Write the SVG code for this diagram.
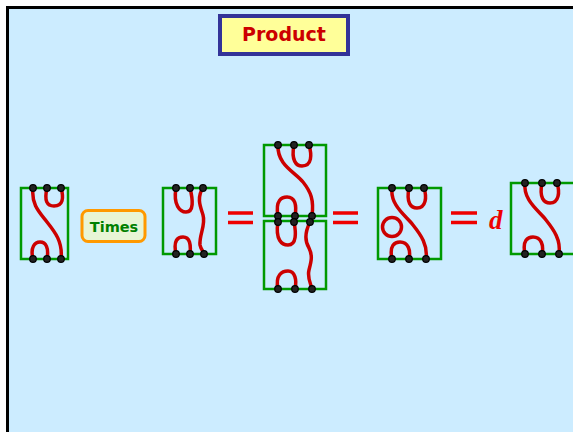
<svg xmlns="http://www.w3.org/2000/svg" width="573" height="432" viewBox="0 0 573 432">
<defs>
<style>
.box{fill:none;stroke:#009900;stroke-width:2.5}
.str{fill:none;stroke:#CC0000;stroke-width:3.5;stroke-linecap:round}
.dot{fill:#222;stroke:#000;stroke-width:1.2}
.eq{stroke:#EE0000;stroke-width:3.5}
</style>
</defs>
<rect x="0" y="0" width="573" height="432" fill="#ffffff"/>
<rect x="7.5" y="7.5" width="570" height="430" fill="#CCECFF" stroke="#000" stroke-width="3"/>
<g id="title">
<rect x="220" y="16" width="128" height="38" fill="#FFFF99" stroke="#333399" stroke-width="4"/>
<text x="284" y="41" font-family="'Comic Sans MS','DejaVu Sans',sans-serif" font-weight="bold" font-size="19" fill="#CC0000" text-anchor="middle">Product</text>
</g>
<g id="d1">
<rect class="box" x="21" y="188" width="47" height="71"/>
<path class="str" d="M33,188 C31,205 40,213 47,222 C55,232 63,242 61,259"/>
<path class="str" d="M47,188 C44,201 47,206 54,206 C63,206 64,198 61,188"/>
<path class="str" d="M33,259 C30,247 35,242 40,242 C46,242 49,248 47,259"/>
<circle class="dot" cx="33" cy="188" r="3.3"/><circle class="dot" cx="47" cy="188" r="3.3"/><circle class="dot" cx="61" cy="188" r="3.3"/>
<circle class="dot" cx="33" cy="259" r="3.3"/><circle class="dot" cx="47" cy="259" r="3.3"/><circle class="dot" cx="61" cy="259" r="3.3"/>
</g>
<g id="times">
<rect x="82" y="210.5" width="63" height="31" rx="6" fill="#E8F5D5" stroke="#FF9900" stroke-width="3"/>
<text x="114" y="232" font-family="'Comic Sans MS','DejaVu Sans',sans-serif" font-weight="bold" font-size="14.5" fill="#008000" text-anchor="middle">Times</text>
</g>
<g id="d2">
<rect class="box" x="163" y="188" width="53" height="66"/>
<path class="str" d="M176,188 C173,205 180,212 186,212 C194,212 193,200 190,188"/>
<path class="str" d="M203,188 C196,198 201,208 203,215 C206,225 199,235 200,245 C201,250 204,252 204,254"/>
<path class="str" d="M176,254 C173,240 178,237 183,237 C190,237 191,245 190,254"/>
<circle class="dot" cx="176" cy="188" r="3.3"/><circle class="dot" cx="190" cy="188" r="3.3"/><circle class="dot" cx="203" cy="188" r="3.3"/>
<circle class="dot" cx="176" cy="254" r="3.3"/><circle class="dot" cx="190" cy="254" r="3.3"/><circle class="dot" cx="204" cy="254" r="3.3"/>
</g>
<g id="eq1"><line class="eq" x1="228" y1="213" x2="253" y2="213"/><line class="eq" x1="228" y1="222.5" x2="253" y2="222.5"/></g>
<g id="d3top">
<rect class="box" x="264" y="145" width="62" height="71"/>
<path class="str" d="M278,145 C277,165 295,172 303,182 C311,192 314,200 312,216"/>
<path class="str" d="M294,145 C291,160 296,166 302,166 C312,166 312,155 309,145"/>
<path class="str" d="M278,216 C275,200 282,197 287,197 C295,197 297,205 295,216"/>
<circle class="dot" cx="278" cy="145" r="3.3"/><circle class="dot" cx="294" cy="145" r="3.3"/><circle class="dot" cx="309" cy="145" r="3.3"/>
<circle class="dot" cx="278" cy="216" r="3.3"/><circle class="dot" cx="295" cy="216" r="3.3"/><circle class="dot" cx="312" cy="216" r="3.3"/>
</g>
<g id="d3bottom">
<rect class="box" x="264" y="221" width="62" height="68"/>
<path class="str" d="M278,222 C275,240 282,245 288,245 C297,245 296,232 294,222"/>
<path class="str" d="M310,222 C305,232 304,240 309,248 C313,256 311,262 309,270 C307,278 311,284 312,289"/>
<path class="str" d="M278,289 C275,275 282,271 288,271 C295,271 297,280 295,289"/>
<circle class="dot" cx="278" cy="222" r="3.3"/><circle class="dot" cx="294" cy="222" r="3.3"/><circle class="dot" cx="310" cy="222" r="3.3"/>
<circle class="dot" cx="278" cy="289" r="3.3"/><circle class="dot" cx="295" cy="289" r="3.3"/><circle class="dot" cx="312" cy="289" r="3.3"/>
</g>
<g id="eq2"><line class="eq" x1="333" y1="213" x2="358" y2="213"/><line class="eq" x1="333" y1="222.5" x2="358" y2="222.5"/></g>
<g id="d4">
<rect class="box" x="378" y="188" width="63" height="71"/>
<path class="str" d="M392,188 C390,205 405,215 413,225 C421,235 428,245 426,259"/>
<path class="str" d="M409,188 C406,203 411,208 417,208 C426,208 427,197 424,188"/>
<path class="str" d="M392,259 C389,245 395,242 400,242 C408,242 411,250 409,259"/>
<circle class="str" cx="392" cy="227" r="9.5"/>
<circle class="dot" cx="392" cy="188" r="3.3"/><circle class="dot" cx="409" cy="188" r="3.3"/><circle class="dot" cx="424" cy="188" r="3.3"/>
<circle class="dot" cx="392" cy="259" r="3.3"/><circle class="dot" cx="409" cy="259" r="3.3"/><circle class="dot" cx="426" cy="259" r="3.3"/>
</g>
<g id="eq3"><line class="eq" x1="451" y1="213" x2="477" y2="213"/><line class="eq" x1="451" y1="222.5" x2="477" y2="222.5"/></g>
<text id="d" x="489" y="229" font-family="'Liberation Serif',serif" font-style="italic" font-weight="bold" font-size="27" fill="#EE0000">d</text>
<g id="d5">
<rect class="box" x="511" y="183" width="66" height="71"/>
<path class="str" d="M525,183 C523,200 538,210 546,220 C554,230 561,240 559,254"/>
<path class="str" d="M542,183 C539,198 544,203 550,203 C559,203 560,192 557,183"/>
<path class="str" d="M525,254 C522,240 528,237 533,237 C541,237 544,245 542,254"/>
<circle class="dot" cx="525" cy="183" r="3.3"/><circle class="dot" cx="542" cy="183" r="3.3"/><circle class="dot" cx="557" cy="183" r="3.3"/>
<circle class="dot" cx="525" cy="254" r="3.3"/><circle class="dot" cx="542" cy="254" r="3.3"/><circle class="dot" cx="559" cy="254" r="3.3"/>
</g>
</svg>
